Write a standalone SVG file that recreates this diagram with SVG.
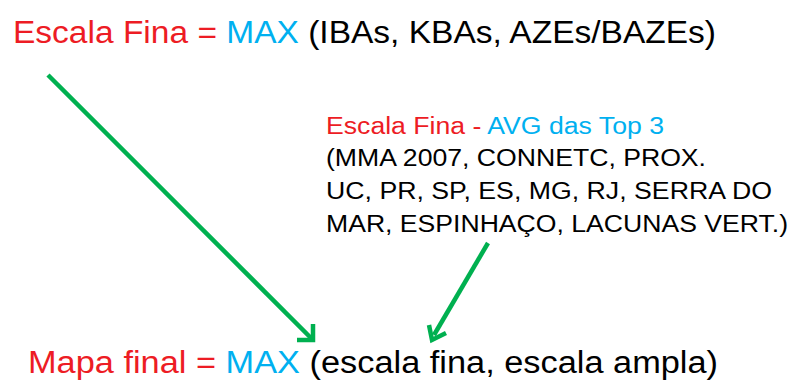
<svg xmlns="http://www.w3.org/2000/svg" width="792" height="383" viewBox="0 0 792 383">
<style>
text{font-family:"Liberation Sans",Arial,sans-serif;fill:#000}
.r{fill:#ED1C24}.c{fill:#00B0F0}
.big{font-size:31px}
.mid{font-size:23px}
.conn{stroke:#00B050;stroke-width:4.5;fill:none}
</style>
<rect width="792" height="383" fill="#fff"/>
<g id="top">
<text class="big" x="13" y="43" textLength="703" lengthAdjust="spacingAndGlyphs"><tspan class="r">Escala Fina = </tspan><tspan class="c">MAX</tspan> (IBAs, KBAs, AZEs/BAZEs)</text>
</g>
<g id="mid" class="mid">
<text x="326" y="134" textLength="338" lengthAdjust="spacingAndGlyphs"><tspan class="r">Escala Fina - </tspan><tspan class="c">AVG das Top 3</tspan></text>
<text x="326" y="166" textLength="380" lengthAdjust="spacingAndGlyphs">(MMA 2007, CONNETC, PROX.</text>
<text x="326" y="199" textLength="446" lengthAdjust="spacingAndGlyphs">UC, PR, SP, ES, MG, RJ, SERRA DO</text>
<text x="326" y="232" textLength="462" lengthAdjust="spacingAndGlyphs">MAR, ESPINHAÇO, LACUNAS VERT.)</text>
</g>
<g id="bottom">
<text class="big" x="28" y="373" textLength="690" lengthAdjust="spacingAndGlyphs"><tspan class="r">Mapa final = </tspan><tspan class="c">MAX</tspan> (escala fina, escala ampla)</text>
</g>
<g id="connectors" class="conn">
<path d="M48 75 L311 338"/>
<path d="M313 324 L313 340 L297 340"/>
<path d="M488 243 L434 335"/>
<path d="M429 325 L432 340 L446 333"/>
</g>
</svg>
